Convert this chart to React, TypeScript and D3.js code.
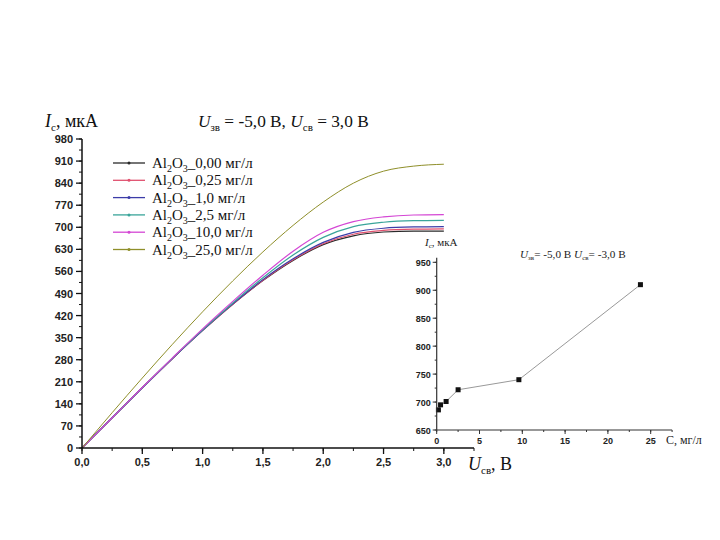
import React from "react";
import * as d3 from "d3";

const voltages = [0, 0.25, 0.5, 0.75, 1.0, 1.25, 1.5, 1.75, 2.0, 2.25, 2.5, 2.75, 3.0];
const seriesNames = ["0,00", "0,25", "1,0", "2,5", "10,0", "25,0"];
const seriesColors = ["#2a2a2a", "#e0506e", "#3c3ca8", "#3aa59a", "#d446d4", "#8f8f2a"];
const iBlack = [0, 96, 191, 284, 373, 456, 531, 595, 645, 673, 685, 688, 688];
const iRed = [0, 96, 191, 284, 373, 456, 532, 597, 648, 678, 690, 694, 695];
const iBlue = [0, 96, 191, 284, 373, 457, 534, 600, 652, 684, 697, 701, 702];
const iTeal = [0, 96, 191, 285, 375, 460, 540, 612, 668, 702, 716, 721, 722];
const iMagenta = [0, 96, 192, 286, 378, 465, 548, 624, 684, 718, 733, 739, 740];
const iGreen = [0, 112, 222, 329, 432, 530, 622, 706, 780, 840, 878, 894, 900];
const seriesValues = [iBlack, iRed, iBlue, iTeal, iMagenta, iGreen];

const xTicks = [0, 0.5, 1.0, 1.5, 2.0, 2.5, 3.0];
const yTicks = [0, 70, 140, 210, 280, 350, 420, 490, 560, 630, 700, 770, 840, 910, 980];

const insetC = [0.2, 0.45, 1.1, 2.5, 9.6, 23.8];
const insetI = [686, 695, 701, 722, 740, 910];
const insetXTicks = [0, 5, 10, 15, 20, 25];
const insetYTicks = [650, 700, 750, 800, 850, 900, 950];

const fmt = (v: number) => v.toFixed(1).replace(".", ",");

export default function App() {
  const x = d3.scaleLinear().domain([0, 3.25]).range([82, 474]);
  const y = d3.scaleLinear().domain([0, 980]).range([448, 139]);
  const line = d3
    .line<number>()
    .x((_, i) => x(voltages[i]))
    .y((d) => y(d))
    .curve(d3.curveMonotoneX);

  const ix = d3.scaleLinear().domain([0, 25]).range([436.7, 650.7]);
  const iy = d3.scaleLinear().domain([650, 950]).range([430, 262.3]);
  const iline = d3
    .line<number>()
    .x((_, i) => ix(insetC[i]))
    .y((d) => iy(d));

  const tickFont = { fontFamily: "Liberation Sans, Arial, sans-serif", fontSize: 11, fontWeight: 700, fill: "#222" };
  const serif = "Liberation Serif, Times New Roman, serif";

  const xMinor = d3.range(0, 3.26, 0.25);
  const yMinor = d3.range(0, 981, 35);
  const ixMinor = d3.range(0, 27.6, 2.5);
  const iyMinor = d3.range(650, 960, 25);

  return (
    <svg width={720} height={540} style={{ position: "absolute", left: 0, top: 0, background: "#fff" }}>
      <rect width={720} height={540} fill="#fff" />
      {/* titles */}
      <text x={45} y={127} fontFamily={serif} fontSize={18} fill="#111">
        <tspan fontStyle="italic">I</tspan>
        <tspan fontSize={11} dy={4}>с</tspan>
        <tspan dy={-4}>, мкА</tspan>
      </text>
      <text x={198} y={127} fontFamily={serif} fontSize={17.3} fill="#111">
        <tspan fontStyle="italic">U</tspan>
        <tspan fontSize={11} dy={4}>зв</tspan>
        <tspan dy={-4}> = -5,0 В, </tspan>
        <tspan fontStyle="italic">U</tspan>
        <tspan fontSize={11} dy={4}>св</tspan>
        <tspan dy={-4}> = 3,0 В</tspan>
      </text>

      {/* main curves */}
      {seriesValues.map((vals, k) => (
        <path key={k} d={line(vals) || ""} fill="none" stroke={seriesColors[k]} strokeWidth={k === 5 ? 1 : 1.2} />
      ))}

      {/* main axes */}
      <line x1={x(0)} x2={474} y1={448} y2={448} stroke="#111" strokeWidth={1.5} />
      <line x1={82} x2={82} y1={448} y2={y(980)} stroke="#111" strokeWidth={1.5} />
      {xMinor.map((t) => (
        <line key={"xm" + t} x1={x(t)} x2={x(t)} y1={448} y2={451} stroke="#111" strokeWidth={1} />
      ))}
      {xTicks.map((t) => (
        <g key={"xt" + t}>
          <line x1={x(t)} x2={x(t)} y1={448} y2={454} stroke="#111" strokeWidth={1.3} />
          <text x={x(t)} y={466} textAnchor="middle" {...tickFont}>
            {fmt(t)}
          </text>
        </g>
      ))}
      {yMinor.map((t) => (
        <line key={"ym" + t} x1={79} x2={82} y1={y(t)} y2={y(t)} stroke="#111" strokeWidth={1} />
      ))}
      {yTicks.map((t) => (
        <g key={"yt" + t}>
          <line x1={76} x2={82} y1={y(t)} y2={y(t)} stroke="#111" strokeWidth={1.3} />
          <text x={73} y={y(t) + 4} textAnchor="end" {...tickFont}>
            {t}
          </text>
        </g>
      ))}
      <text x={468} y={470} fontFamily={serif} fontSize={18} fill="#111">
        <tspan fontStyle="italic">U</tspan>
        <tspan fontSize={11} dy={4}>св</tspan>
        <tspan dy={-4}>, В</tspan>
      </text>

      {/* legend */}
      {seriesNames.map((n, k) => {
        const ly = 163 + k * 17.3;
        return (
          <g key={"lg" + k}>
            <line x1={113} x2={145} y1={ly} y2={ly} stroke={seriesColors[k]} strokeWidth={1.3} />
            <circle cx={129} cy={ly} r={1.5} fill={seriesColors[k]} />
            <text x={152} y={ly + 5} fontFamily={serif} fontSize={15} fill="#111">
              Al<tspan fontSize={10} dy={4}>2</tspan>
              <tspan dy={-4}>O</tspan>
              <tspan fontSize={10} dy={4}>3</tspan>
              <tspan dy={-4}>_{n} мг/л</tspan>
            </text>
          </g>
        );
      })}

      {/* inset */}
      <path d={iline(insetI) || ""} fill="none" stroke="#999" strokeWidth={1} />
      {insetI.map((v, i) => (
        <rect key={"ip" + i} x={ix(insetC[i]) - 2.5} y={iy(v) - 2.5} width={5} height={5} fill="#111" />
      ))}
      <line x1={ix(0)} x2={ix(27.5)} y1={430} y2={430} stroke="#333" strokeWidth={1.2} />
      <line x1={ix(0)} x2={ix(0)} y1={430} y2={iy(958)} stroke="#333" strokeWidth={1.2} />
      {ixMinor.map((t) => (
        <line key={"ixm" + t} x1={ix(t)} x2={ix(t)} y1={430} y2={432} stroke="#333" strokeWidth={1} />
      ))}
      {insetXTicks.map((t) => (
        <g key={"ixt" + t}>
          <line x1={ix(t)} x2={ix(t)} y1={430} y2={434} stroke="#333" strokeWidth={1} />
          <text x={ix(t)} y={444} textAnchor="middle" {...tickFont} fontSize={9}>
            {t}
          </text>
        </g>
      ))}
      {iyMinor.map((t) => (
        <line key={"iym" + t} x1={ix(0) - 2} x2={ix(0)} y1={iy(t)} y2={iy(t)} stroke="#333" strokeWidth={1} />
      ))}
      {insetYTicks.map((t) => (
        <g key={"iyt" + t}>
          <line x1={ix(0) - 4} x2={ix(0)} y1={iy(t)} y2={iy(t)} stroke="#333" strokeWidth={1} />
          <text x={ix(0) - 6} y={iy(t) + 3.5} textAnchor="end" {...tickFont} fontSize={9}>
            {t}
          </text>
        </g>
      ))}
      <text x={425} y={246} fontFamily={serif} fontSize={11} fill="#222">
        <tspan fontStyle="italic">I</tspan>
        <tspan fontSize={7} dy={2}>с</tspan>
        <tspan dy={-2}>, мкА</tspan>
      </text>
      <text x={520} y={258} fontFamily={serif} fontSize={11.2} fill="#222">
        <tspan fontStyle="italic">U</tspan>
        <tspan fontSize={7} dy={2}>зв</tspan>
        <tspan dy={-2}>= -5,0 В </tspan>
        <tspan fontStyle="italic">U</tspan>
        <tspan fontSize={7} dy={2}>св</tspan>
        <tspan dy={-2}>= -3,0 В</tspan>
      </text>
      <text x={666} y={444} fontFamily={serif} fontSize={12} fill="#222">
        С, мг/л
      </text>
    </svg>
  );
}
